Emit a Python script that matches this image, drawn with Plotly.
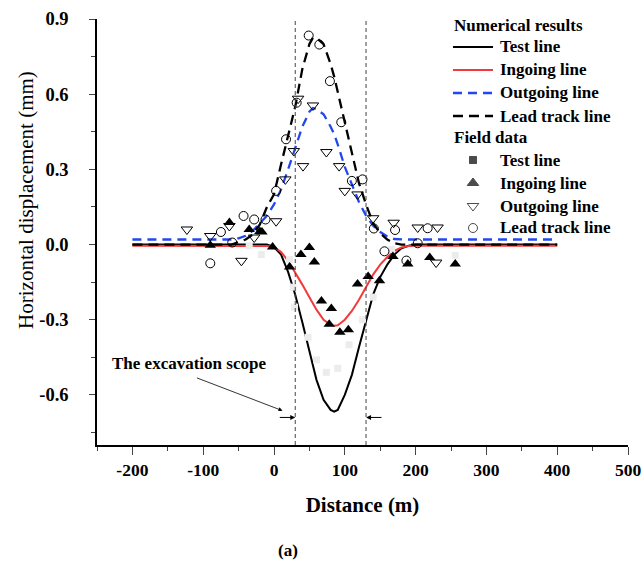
import plotly.graph_objects as go

# ---------------- Numerical results (curves) ----------------
num_x = [-200, -60, -50, -40, -30, -20, -10, 0, 10, 20, 30, 40, 50, 55, 60, 70, 80, 85,
         90, 100, 110, 120, 130, 140, 150, 160, 170, 180, 190, 200, 400]
test_line = [0, 0, 0, 0, 0, 0, 0, -0.01, -0.04, -0.11, -0.2, -0.31, -0.43, -0.49, -0.54,
             -0.62, -0.66, -0.667, -0.66, -0.6, -0.52, -0.41, -0.3, -0.2, -0.13, -0.08,
             -0.04, -0.015, -0.005, 0, 0]
ingoing_line = [-0.005, -0.005, -0.005, -0.005, -0.005, -0.005, -0.006, -0.01, -0.03, -0.065,
                -0.11, -0.16, -0.21, -0.235, -0.26, -0.3, -0.32, -0.324, -0.322, -0.3,
                -0.265, -0.22, -0.17, -0.12, -0.08, -0.05, -0.025, -0.012, -0.006, -0.005,
                -0.005]
outgoing_line = [0.02, 0.02, 0.025, 0.035, 0.055, 0.085, 0.115, 0.16, 0.22, 0.3, 0.39, 0.47,
                 0.53, 0.545, 0.54, 0.52, 0.47, 0.44, 0.4, 0.31, 0.24, 0.17, 0.115, 0.075,
                 0.05, 0.032, 0.022, 0.02, 0.02, 0.02, 0.02]
lead_track_line = [0, 0, 0.01, 0.02, 0.04, 0.08, 0.15, 0.2, 0.32, 0.44, 0.55, 0.7, 0.8,
                   0.825, 0.825, 0.8, 0.72, 0.67, 0.61, 0.49, 0.36, 0.245, 0.16, 0.085,
                   0.045, 0.02, 0.005, 0, 0, 0, 0]

# ---------------- Field data (markers) ----------------
test_fx = [-35, -18, 22, 27, 29, 48, 60, 74, 90, 106, 125, 140, 166, 256]
test_fy = [-0.005, -0.04, -0.06, -0.17, -0.25, -0.37, -0.46, -0.51, -0.494, -0.4, -0.3,
           -0.21, -0.02, -0.043]

in_fx = [-90, -63, -35, -20, -17, -2, 22, 38, 50, 57, 67, 81, 78, 93, 105, 118, 133, 149,
         168, 189, 220, 256]
in_fy = [-0.003, 0.088, 0.06, 0.052, 0.05, -0.01, -0.09, -0.04, -0.012, -0.07, -0.225,
         -0.255, -0.318, -0.35, -0.34, -0.158, -0.128, -0.145, -0.048, -0.078, -0.052,
         -0.078]

out_fx = [-123, -90, -63, -46, -28, 3, 16, 28, 34, 41, 55, 74, 92, 100, 118, 140, 169, 203,
          231, 229]
out_fy = [0.06, 0.034, 0.074, -0.065, 0.028, 0.093, 0.26, 0.373, 0.582, 0.313, 0.555, 0.369,
          0.313, 0.214, 0.2, 0.105, 0.087, 0.068, 0.068, -0.072]

lead_fx = [-90, -75, -59, -43, -28, -12, 3, 17, 32, 49, 64, 79, 95, 110, 125, 141, 156, 171,
           187, 203, 217]
lead_fy = [-0.075, 0.05, 0.008, 0.114, 0.1, 0.1, 0.214, 0.42, 0.566, 0.834, 0.798, 0.652,
           0.488, 0.254, 0.26, 0.064, -0.027, 0.058, -0.064, 0.005, 0.065]

# excavation scope bounds (m)
scope_bounds = [30, 130]

x_ticks = [-200, -100, 0, 100, 200, 300, 400, 500]
x_ticklabels = ["-200", "-100", "0", "100", "200", "300", "400", "500"]
y_ticks = [0.9, 0.6, 0.3, 0.0, -0.3, -0.6]
y_ticklabels = ["0.9", "0.6", "0.3", "0.0", "-0.3", "-0.6"]

series_names = ["Test line", "Ingoing line", "Outgoing line", "Lead track line"]
group_titles = ["Numerical results", "Field data"]

FONT = "Liberation Serif"
BLACK = "black"
RED = "#f23a3a"
BLUE = "#2246f0"

line_styles = [
    dict(color=BLACK, width=2),
    dict(color=RED, width=2),
    dict(color=BLUE, width=2.3, dash="9px,6px"),
    dict(color=BLACK, width=2.3, dash="10px,6px"),
]
marker_styles = [
    dict(symbol="square", size=7, color=BLACK),
    dict(symbol="triangle-up", size=10, color=BLACK),
    dict(symbol="triangle-down-open", size=10, color=BLACK, line=dict(width=1)),
    dict(symbol="circle-open", size=9, color=BLACK, line=dict(width=1)),
]

fig = go.Figure()

# curves
for yv, nm, ls in zip([test_line, ingoing_line, outgoing_line, lead_track_line],
                      series_names, line_styles):
    fig.add_trace(go.Scatter(x=num_x, y=yv, mode="lines", name=nm, line=ls))

# field data
fig.add_trace(go.Scatter(x=test_fx, y=test_fy, mode="markers", name="Test line (field)",
                         marker=dict(symbol="square", size=7, color="#ececec")))
for fx, fy, nm, ms in zip([in_fx, out_fx, lead_fx], [in_fy, out_fy, lead_fy],
                          series_names[1:], marker_styles[1:]):
    fig.add_trace(go.Scatter(x=fx, y=fy, mode="markers", name=nm + " (field)", marker=ms))

# excavation scope vertical lines
for xb in scope_bounds:
    fig.add_shape(type="line", xref="x", yref="paper", x0=xb, x1=xb, y0=0, y1=1,
                  line=dict(color="#444444", width=1, dash="4px,3px"))

# ---------------- legend (drawn manually, positions in plot-fraction units) ----------
leg_x_sym0, leg_x_sym1, leg_x_text, leg_x_mark = 0.6704, 0.7458, 0.7571, 0.7081
leg_title_y = [0.9836, 0.7207]
leg_line_y = [0.9343, 0.8803, 0.8263, 0.7723]
leg_mark_y = [0.669, 0.615, 0.561, 0.5094]
leg_font = dict(family=FONT, size=17, color=BLACK)

for t, ty in zip(group_titles, leg_title_y):
    fig.add_annotation(x=leg_x_sym0, y=ty, xref="paper", yref="paper", xanchor="left",
                       yanchor="middle", text="<b>%s</b>" % t, showarrow=False,
                       font=leg_font, borderpad=0)
for nm, ly, ls in zip(series_names, leg_line_y, line_styles):
    fig.add_shape(type="line", xref="paper", yref="paper", x0=leg_x_sym0, x1=leg_x_sym1,
                  y0=ly, y1=ly, line=ls)
    fig.add_annotation(x=leg_x_text, y=ly, xref="paper", yref="paper", xanchor="left",
                       yanchor="middle", text="<b>%s</b>" % nm, showarrow=False,
                       font=leg_font, borderpad=0)
for nm, my in zip(series_names, leg_mark_y):
    fig.add_annotation(x=leg_x_text, y=my, xref="paper", yref="paper", xanchor="left",
                       yanchor="middle", text="<b>%s</b>" % nm, showarrow=False,
                       font=leg_font, borderpad=0)
fig.add_trace(go.Scatter(
    x=[leg_x_mark] * 4, y=leg_mark_y, xaxis="x2", yaxis="y2", mode="markers",
    cliponaxis=False, hoverinfo="skip",
    marker=dict(symbol=[m["symbol"] for m in marker_styles],
                size=[m["size"] for m in marker_styles], color=BLACK,
                line=dict(width=1, color=BLACK))))

# annotations
fig.add_annotation(x=-120, y=-0.475, xref="x", yref="y", text="<b>The excavation scope</b>",
                   showarrow=False, font=dict(family=FONT, size=17, color=BLACK))
fig.add_annotation(x=12, y=-0.663, xref="x", yref="y", ax=-111, ay=-0.53,
                   axref="x", ayref="y", text="", showarrow=True, arrowhead=2,
                   arrowsize=1, arrowwidth=0.8, arrowcolor=BLACK)
fig.add_annotation(x=scope_bounds[0], y=-0.69, xref="x", yref="y",
                   ax=scope_bounds[0] - 24, ay=-0.69, axref="x", ayref="y", text="",
                   showarrow=True, arrowhead=2, arrowsize=1, arrowwidth=1,
                   arrowcolor=BLACK)
fig.add_annotation(x=scope_bounds[1], y=-0.69, xref="x", yref="y",
                   ax=scope_bounds[1] + 24, ay=-0.69, axref="x", ayref="y", text="",
                   showarrow=True, arrowhead=2, arrowsize=1, arrowwidth=1,
                   arrowcolor=BLACK)
fig.add_annotation(x=0.36, y=-0.247, xref="paper", yref="paper", text="<b>(a)</b>",
                   xanchor="center", yanchor="middle",
                   showarrow=False, font=dict(family=FONT, size=17, color=BLACK))
# y-axis title
fig.add_annotation(x=-0.134, y=0.575, xref="paper", yref="paper",
                   text="Horizontal displacement (mm)", textangle=-90,
                   xanchor="center", yanchor="middle", showarrow=False,
                   font=dict(family=FONT, size=21, color=BLACK))

fig.update_layout(
    width=643, height=561,
    margin=dict(l=97, r=15, t=19, b=116),
    paper_bgcolor="white", plot_bgcolor="white",
    font=dict(family=FONT, color=BLACK),
    showlegend=False,
    xaxis=dict(range=[-250, 500], tickvals=x_ticks,
               ticktext=["<b>%s</b>" % t for t in x_ticklabels],
               ticks="outside", ticklen=8, automargin=False,
               tickwidth=1.3, showline=True, linecolor=BLACK, linewidth=1.5,
               showgrid=False, zeroline=False, mirror=False,
               tickfont=dict(family=FONT, size=17.5, color=BLACK),
               title=dict(text="<b>Distance (m)</b>", standoff=19,
                          font=dict(family=FONT, size=21, color=BLACK)),
               minor=dict(dtick=50, tick0=0, ticks="outside", ticklen=4, tickwidth=1.3,
                          showgrid=False)),
    yaxis=dict(range=[-0.8, 0.9], tickvals=y_ticks,
               ticktext=["<b>%s</b>" % t for t in y_ticklabels],
               ticks="outside", ticklen=6, tickwidth=1.3, showline=True, automargin=False,
               linecolor=BLACK, linewidth=1.5, showgrid=False, zeroline=False,
               ticklabelstandoff=17,
               tickfont=dict(family=FONT, size=18.5, color=BLACK),
               minor=dict(dtick=0.15, tick0=0.15, ticks="outside", ticklen=4,
                          tickwidth=1.3, showgrid=False)),
    xaxis2=dict(overlaying="x", anchor="y2", range=[0, 1], visible=False,
                fixedrange=True),
    yaxis2=dict(overlaying="y", anchor="x2", range=[0, 1], visible=False,
                fixedrange=True),
)

fig.write_html("out.html")
